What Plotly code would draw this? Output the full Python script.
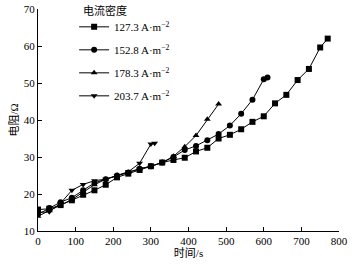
import plotly.graph_objects as go

t1 = [0, 30, 60, 90, 120, 150, 180, 210, 240, 270, 300, 330, 360, 390, 420, 450, 480, 510, 540, 570, 600, 630, 660, 690, 720, 750, 770]
r1 = [15.8, 16.0, 17.0, 18.3, 19.8, 21.0, 22.5, 24.5, 25.5, 26.5, 27.5, 28.5, 29.2, 29.8, 31.5, 32.5, 35.0, 36.0, 37.5, 39.5, 41.0, 44.5, 46.8, 50.8, 53.8, 59.6, 62.0]

t2 = [0, 30, 60, 90, 120, 150, 180, 210, 240, 270, 300, 330, 360, 390, 420, 450, 480, 510, 540, 570, 600, 610]
r2 = [14.5, 16.2, 17.8, 19.0, 21.0, 23.0, 24.0, 25.0, 25.8, 26.8, 27.5, 28.5, 30.0, 31.9, 33.0, 34.5, 36.2, 38.5, 41.7, 45.5, 51.0, 51.5]

t3 = [0, 30, 60, 90, 120, 150, 180, 210, 240, 270, 300, 330, 360, 390, 420, 450, 480]
r3 = [14.0, 15.5, 17.0, 18.5, 20.5, 22.5, 24.0, 25.0, 25.8, 26.8, 27.5, 28.5, 30.2, 32.8, 35.8, 40.2, 44.3]

t4 = [0, 30, 60, 90, 120, 150, 180, 210, 240, 270, 300, 310]
r4 = [15.0, 15.2, 17.5, 21.0, 22.6, 23.6, 24.0, 25.0, 26.0, 28.3, 33.5, 33.7]

names = ["127.3 A·m<sup>−2</sup>", "152.8 A·m<sup>−2</sup>", "178.3 A·m<sup>−2</sup>", "203.7 A·m<sup>−2</sup>"]
symbols = ["square", "circle", "triangle-up", "triangle-down"]
legend_title = "电流密度"

serif = '"Liberation Serif", "Times New Roman", "Noto Sans CJK SC", serif'
cjk = '"Liberation Serif", "Noto Sans CJK SC", sans-serif'

fig = go.Figure()
for i, (t, r, n, s) in enumerate(zip([t1, t2, t3, t4], [r1, r2, r3, r4], names, symbols)):
    fig.add_trace(go.Scatter(
        x=t, y=r, name=n, mode="lines+markers", legendgroup=f"g{i}",
        line=dict(color="black", width=1),
        marker=dict(symbol=s, size=6, color="black"),
    ))

fig.add_annotation(
    text=legend_title, xref="paper", yref="paper", x=0.143, y=0.995,
    xanchor="left", yanchor="middle", showarrow=False,
    font=dict(family=cjk, size=11, color="black"),
)

fig.update_layout(
    width=352, height=265,
    margin=dict(l=38, r=13, t=9, b=34),
    paper_bgcolor="white", plot_bgcolor="white",
    font=dict(family=serif, size=11, color="black"),
    showlegend=True,
    legend=dict(
        x=0.12, y=0.985, xanchor="left", yanchor="top",
        bgcolor="rgba(0,0,0,0)", itemwidth=30,
        font=dict(family=serif, size=11), tracegroupgap=4,
    ),
    xaxis=dict(
        range=[0, 800], dtick=100, showline=True, linecolor="black", linewidth=1,
        ticks="inside", ticklen=4, tickcolor="black", showgrid=False, zeroline=False,
        automargin=False,
        title=dict(text="时间/s", font=dict(family=cjk, size=11), standoff=2),
    ),
    yaxis=dict(
        range=[10, 70], dtick=10, showline=True, linecolor="black", linewidth=1,
        ticks="inside", ticklen=4, tickcolor="black", showgrid=False, zeroline=False,
        automargin=False,
        title=dict(text="电阻/Ω", font=dict(family=cjk, size=11), standoff=2),
    ),
)

fig.write_html("out.html", post_script="document.body.style.margin='0';",
               config={"displayModeBar": False})
